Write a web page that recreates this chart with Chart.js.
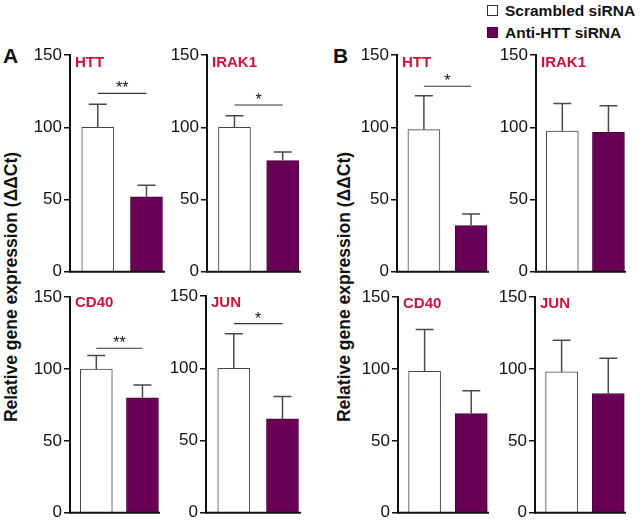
<!DOCTYPE html>
<html>
<head>
<meta charset="utf-8">
<script src="https://cdn.jsdelivr.net/npm/chart.js@4.4.1/dist/chart.umd.min.js"></script>
<style>
    body { margin: 0; background: #fff; }
    #fig { position: relative; width: 640px; height: 523px; overflow: hidden; font-family: "Liberation Sans", Arial, sans-serif; color: #111; }
    .panel { position: absolute; }
    .txt { position: absolute; line-height: 1; white-space: nowrap; }
    .letter { font-weight: bold; font-size: 21px; }
    .ytitle { font-weight: bold; font-size: 17.5px; transform: translate(-50%, -50%) rotate(-90deg); }
    .legend { font-weight: bold; font-size: 15.5px; }
    .swatch { position: absolute; width: 11px; height: 11px; box-sizing: border-box; border: 1px solid #333; }
</style>
</head>
<body>
<div id="fig">
    <div class="txt letter" style="left:3px; top:45px;">A</div>
    <div class="txt letter" style="left:333px; top:45px;">B</div>
    <div class="txt ytitle" style="left:12px; top:287px;">Relative gene expression (ΔΔCt)</div>
    <div class="txt ytitle" style="left:345px; top:287px;">Relative gene expression (ΔΔCt)</div>
    <div class="swatch" style="left:487px; top:5px; background:#fff;"></div>
    <div class="txt legend" id="leg0" style="left:505px; top:3px;"></div>
    <div class="swatch" style="left:487px; top:27px; background:#6a0056; border-color:#4a003c;"></div>
    <div class="txt legend" id="leg1" style="left:505px; top:25px;"></div>
</div>
<script>
const groups = ['Scrambled siRNA', 'Anti-HTT siRNA'];
const genes = ['HTT', 'IRAK1', 'CD40', 'JUN'];
const yTicks = [0, 50, 100, 150];

// A: mean and upper error (SEM) per gene
const scrambledA = [100, 100, 100, 100];
const scrambledErrA = [16, 8, 9.5, 24];
const antiA = [52, 77, 80, 65];
const antiErrA = [8, 6, 9, 15.5];
const sigA = ['**', '*', '**', '*'];
const sigLevelA = [123.5, 115.5, 114.5, 131];

// B
const scrambledB = [98.5, 97.5, 98.5, 98];
const scrambledErrB = [23.5, 19, 29, 22];
const antiB = [32, 96.5, 69, 83];
const antiErrB = [8, 18.5, 16, 24.5];
const sigB = ['*', null, null, null];
const sigLevelB = [128.5, null, null, null];

const colors = { scrambled: '#ffffff', anti: '#6a0056', gene: '#c8143c', ink: '#111111', err: '#4a4a4a' };

const sets = {
    A: { scrambled: scrambledA, scrambledErr: scrambledErrA, anti: antiA, antiErr: antiErrA, sig: sigA, sigLevel: sigLevelA },
    B: { scrambled: scrambledB, scrambledErr: scrambledErrB, anti: antiB, antiErr: antiErrB, sig: sigB, sigLevel: sigLevelB },
};

// plot area of each small panel in page pixels
const panels = [
    { set: 'A', gene: 0, left: 70, top: 55, bottom: 272, right: 165, labelDy: 12 },
    { set: 'A', gene: 1, left: 207, top: 55, bottom: 272, right: 301, labelDy: 12 },
    { set: 'A', gene: 2, left: 70, top: 297, bottom: 513, right: 160, labelDy: 10 },
    { set: 'A', gene: 3, left: 206, top: 296, bottom: 513, right: 301, labelDy: 11 },
    { set: 'B', gene: 0, left: 397, top: 55, bottom: 272, right: 489, labelDy: 12 },
    { set: 'B', gene: 1, left: 536, top: 55, bottom: 272, right: 626, labelDy: 12 },
    { set: 'B', gene: 2, left: 398, top: 297, bottom: 513, right: 489, labelDy: 11 },
    { set: 'B', gene: 3, left: 535, top: 297, bottom: 513, right: 626, labelDy: 11 },
];

const AXIS_W = 40;
const PAD = { top: 12, bottom: 12, left: 0, right: 4 };

document.getElementById('leg0').textContent = groups[0];
document.getElementById('leg1').textContent = groups[1];

// error whiskers, significance bracket, gene name
const panelDecor = {
    id: 'panelDecor',
    afterDatasetsDraw(chart, args, opts) {
        const { ctx, chartArea, scales: { x, y } } = chart;
        ctx.save();

        // baseline (x axis)
        ctx.strokeStyle = colors.ink;
        ctx.lineWidth = 2;
        ctx.beginPath();
        ctx.moveTo(chartArea.left - 1, y.getPixelForValue(0));
        ctx.lineTo(chartArea.right, y.getPixelForValue(0));
        ctx.stroke();

        ctx.strokeStyle = colors.err;
        ctx.lineWidth = 1.5;
        opts.means.forEach((m, i) => {
            const px = x.getPixelForValue(i + 1);
            const y0 = y.getPixelForValue(m);
            const y1 = y.getPixelForValue(m + opts.errs[i]);
            ctx.beginPath();
            ctx.moveTo(px, y0);
            ctx.lineTo(px, y1);
            ctx.moveTo(px - 9, y1);
            ctx.lineTo(px + 9, y1);
            ctx.stroke();
        });

        if (opts.sig) {
            const ly = y.getPixelForValue(opts.sigLevel);
            const x1 = x.getPixelForValue(1), x2 = x.getPixelForValue(2);
            ctx.strokeStyle = '#333';
            ctx.lineWidth = 1.2;
            ctx.beginPath();
            ctx.moveTo(x1, ly);
            ctx.lineTo(x2, ly);
            ctx.stroke();
            ctx.fillStyle = colors.ink;
            ctx.font = '16px "Liberation Sans", Arial, sans-serif';
            ctx.textAlign = 'center';
            ctx.textBaseline = 'alphabetic';
            ctx.fillText(opts.sig, (x1 + x2) / 2, ly);
        }

        ctx.fillStyle = colors.gene;
        ctx.font = 'bold 15px "Liberation Sans", Arial, sans-serif';
        ctx.textAlign = 'left';
        ctx.textBaseline = 'alphabetic';
        ctx.fillText(opts.gene, chartArea.left + 5, chartArea.top + opts.labelDy);
        ctx.restore();
    },
};

function buildPanel(p) {
    const s = sets[p.set];
    const g = p.gene;
    const means = [s.scrambled[g], s.anti[g]];
    const errs = [s.scrambledErr[g], s.antiErr[g]];

    const w = AXIS_W + (p.right - p.left) + PAD.right;
    const h = PAD.top + (p.bottom - p.top) + PAD.bottom;
    const box = document.createElement('div');
    box.className = 'panel';
    box.style.left = (p.left - AXIS_W) + 'px';
    box.style.top = (p.top - PAD.top) + 'px';
    box.style.width = w + 'px';
    box.style.height = h + 'px';
    const canvas = document.createElement('canvas');
    canvas.width = w;
    canvas.height = h;
    box.appendChild(canvas);
    document.getElementById('fig').appendChild(box);

    new Chart(canvas.getContext('2d'), {
        type: 'bar',
        data: {
            datasets: [{
                data: means.map((v, i) => ({ x: i + 1, y: v })),
                backgroundColor: [colors.scrambled, colors.anti],
                borderColor: ['#444', '#4a003c'],
                borderWidth: 1,
                barThickness: 32,
                grouped: false,
            }],
        },
        options: {
            responsive: false,
            animation: false,
            layout: { padding: PAD },
            plugins: {
                legend: { display: false },
                tooltip: { enabled: false },
                panelDecor: {
                    means, errs,
                    sig: s.sig[g],
                    sigLevel: s.sigLevel[g],
                    gene: genes[g],
                    labelDy: p.labelDy,
                },
            },
            scales: {
                x: {
                    type: 'linear',
                    min: 0.43,
                    max: 2.38,
                    offset: false,
                    ticks: { display: false },
                    grid: { display: false, drawTicks: false, offset: false },
                    border: { display: false },
                },
                y: {
                    min: 0,
                    max: 150,
                    afterBuildTicks: (scale) => { scale.ticks = yTicks.map((v) => ({ value: v })); },
                    afterFit: (scale) => { scale.width = AXIS_W; },
                    ticks: { color: colors.ink, padding: 2, font: { family: '"Liberation Sans", Arial, sans-serif', size: 17 } },
                    grid: { drawOnChartArea: false, drawTicks: true, tickLength: 6, color: colors.ink, lineWidth: 1.5 },
                    border: { display: true, color: colors.ink, width: 2 },
                },
            },
        },
        plugins: [panelDecor],
    });
}

panels.forEach(buildPanel);
</script>
</body>
</html>
